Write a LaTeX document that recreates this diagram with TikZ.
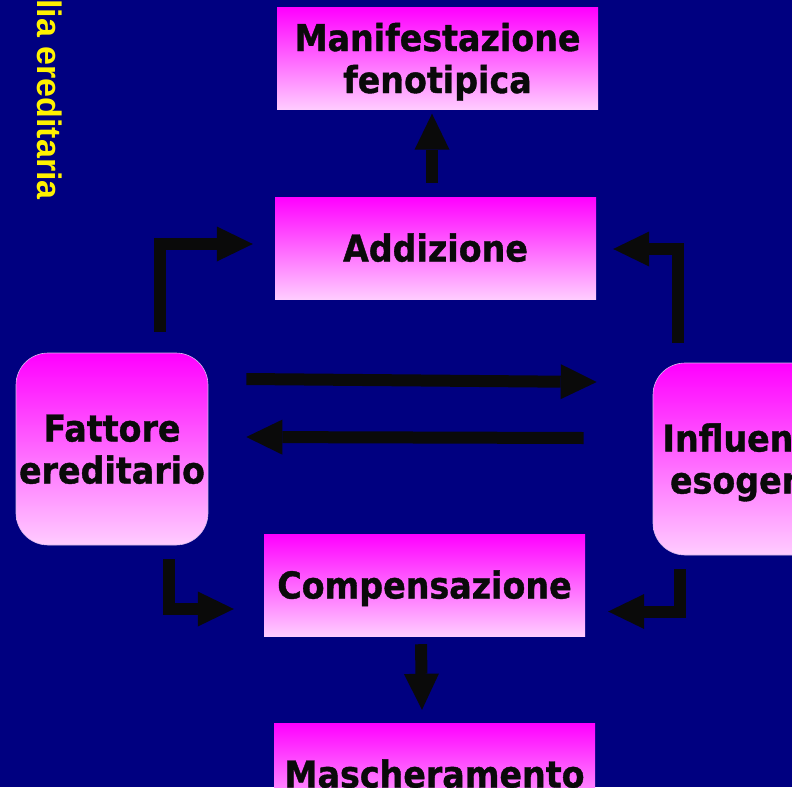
\documentclass[tikz,border=0pt]{standalone}
\usepackage{fontspec}
\usetikzlibrary{arrows.meta,calc}
\newfontfamily\boxfont{DejaVu Sans Bold}[FakeStretch=0.9,FakeBold=1]
\newfontfamily\yfont{Liberation Sans Bold}
\definecolor{navybg}{RGB}{0,0,128}
\definecolor{magtop}{RGB}{255,0,255}
\definecolor{magmid}{RGB}{255,140,255}
\definecolor{magbot}{RGB}{255,204,255}
\definecolor{ink}{RGB}{10,10,10}
\definecolor{rimc}{RGB}{215,185,235}
\newcommand\bline[1]{\smash{\raisebox{-13.5pt}{#1}}}
\tikzset{
  box/.style={shade, top color=magtop, middle color=magmid, bottom color=magbot,
    inner sep=0pt, minimum width=321pt, minimum height=102pt, align=center,
    text=ink, font=\boxfont\fontsize{37}{42}\selectfont},
  rbox/.style={box, minimum width=192pt, minimum height=192pt, rounded corners=32pt,
    draw=rimc, line width=0.6pt},
  arr/.style={draw=ink, line width=12pt, line join=miter,
    -{Triangle[width=35pt,length=36pt,line width=0pt]}},
}
\begin{document}
\begin{tikzpicture}[x=1pt,y=-1pt]
\useasboundingbox (0,0) rectangle (792,787);
\clip (0,0) rectangle (792,787);
\fill[navybg] (0,0) rectangle (792,787);

\node[rotate=-90, anchor=base east, inner sep=0pt, text=yellow,
  font=\yfont\fontsize{34}{40}\selectfont] (title) at (37,200) {lia ereditaria};

\node[box] (man) at (437.5,58.5) {\bline{Manifestazione}\\\bline{fenotipica}};
\node[box] (add) at (435.5,248) {\bline{Addizione}};
\node[rbox] (fat) at (112,449) {\bline{Fattore}\\\bline{ereditario}};
\node[rbox] (inf) at (749,459) {\bline{Influenze}\\\bline{esogene}};
\node[box] (com) at (424.5,585) {\bline{Compensazione}};
\node[box] (mas) at (434.5,774) {\bline{Mascheramento}};

% up to Manifestazione
\draw[arr] ($(add.north)+(-3.5,-14)$) -- ($(man.south)+(-5.5,4)$);
% Fattore -> Addizione
\draw[arr] ($(fat.north)+(48,-21)$) |- ($(add.west)+(-22,-4)$);
% Influenze -> Addizione
\draw[arr] ($(inf.north)+(-71.5,-20)$) |- ($(add.east)+(17,1)$);
% Fattore -> Influenze
\draw[arr] ($(fat.east)+(38,-70)$) -- ($(inf.west)+(-56,-77)$);
% Influenze -> Fattore
\draw[arr] ($(inf.west)+(-69,-21)$) -- ($(fat.east)+(38,-12)$);
% Fattore -> Compensazione
\draw[arr] ($(fat.south)+(56.5,14)$) |- ($(com.west)+(-30,24)$);
% Influenze -> Compensazione
\draw[arr] ($(inf.south)+(-69.5,14)$) |- ($(com.east)+(23,26.5)$);
% Compensazione -> Mascheramento
\draw[arr] ($(com.south)+(-3.5,8)$) -- ($(mas.north)+(-12.5,-13)$);
\end{tikzpicture}
\end{document}
